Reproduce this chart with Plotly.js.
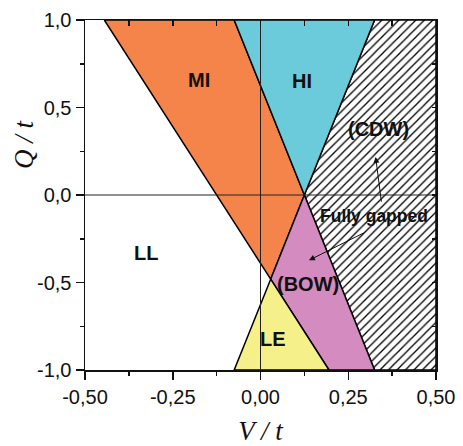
<!DOCTYPE html>
<html>
<head>
<meta charset="utf-8">
<script src="https://cdn.plot.ly/plotly-3.0.1.min.js"></script>
<style>html,body{margin:0;padding:0;background:#fff;}#chart{width:463px;height:446px;}</style>
</head>
<body>
<div id="chart"></div>
<script>
// Phase regions (V/t, Q/t vertices)
const miV  = [-0.445, -0.075, 0.125, 0.029, -0.445];
const miQ  = [1, 1, 0, -0.481, 1];
const hiV  = [-0.075, 0.325, 0.125, -0.075];
const hiQ  = [1, 1, 0, 1];
const cdwV = [0.325, 0.5, 0.5, 0.325, 0.125, 0.325];
const cdwQ = [1, 1, -1, -1, 0, 1];
const bowV = [0.125, 0.325, 0.195, 0.029, 0.125];
const bowQ = [0, -1, -1, -0.481, 0];
const leV  = [0.029, 0.195, -0.075, 0.029];
const leQ  = [-0.481, -1, -1, -0.481];

// Zero reference lines
const hLineV = [-0.5, 0.5];
const hLineQ = [0, 0];
const vLineV = [0, 0];
const vLineQ = [-1, 1];

// Ticks
const xTickVals = [-0.5, -0.25, 0, 0.25, 0.5];
const xTickText = ['-0,50', '-0,25', '0,00', '0,25', '0,50'];
const xMinor = [-0.375, -0.125, 0.125, 0.375];
const yTickVals = [-1, -0.5, 0, 0.5, 1];
const yTickText = ['-1,0', '-0,5', '0,0', '0,5', '1,0'];
const yMinor = [-0.75, -0.25, 0.25, 0.75];
const xTopTicks = [-0.5, -0.375, -0.25, -0.125, 0, 0.125, 0.25, 0.375, 0.5];
const yRightTicks = [-1, -0.75, -0.5, -0.25, 0, 0.25, 0.5, 0.75, 1];

// Region labels
const labelText = ['MI', 'HI', '(CDW)', '(BOW)', 'LE', 'LL'];
const labelV = [-0.174, 0.117, 0.336, 0.136, 0.035, -0.327];
const labelQ = [0.660, 0.650, 0.379, -0.506, -0.820, -0.331];

const noteText = 'Fully gapped';
const noteV = 0.324, noteQ = -0.122;
// arrows: head and tail
const arrowHeadV = [0.328, 0.138];
const arrowHeadQ = [0.217, -0.373];
const arrowTailV = [0.345, 0.298];
const arrowTailQ = [-0.047, -0.213];

const edge = {color: '#000', width: 1.5};
function region(x, y, color, extra) {
  return Object.assign({type: 'scatter', mode: 'lines', x: x, y: y, fill: 'toself',
    fillcolor: color, line: edge, hoverinfo: 'skip', showlegend: false}, extra || {});
}

const traces = [
  region(cdwV, cdwQ, '#ffffff', {fillpattern: {shape: '/', fgcolor: '#000', bgcolor: '#ffffff', size: 6, solidity: 0.22}}),
  region(miV, miQ, '#F5844A'),
  region(hiV, hiQ, '#6BCBDA'),
  region(bowV, bowQ, '#D38BC0'),
  region(leV, leQ, '#F6F08A'),
  {type: 'scatter', mode: 'lines', x: hLineV, y: hLineQ, line: {color: '#222', width: 1}, hoverinfo: 'skip', showlegend: false},
  {type: 'scatter', mode: 'lines', x: vLineV, y: vLineQ, line: {color: '#222', width: 1}, hoverinfo: 'skip', showlegend: false},
  {type: 'scatter', mode: 'markers', x: [0], y: [0], xaxis: 'x2', yaxis: 'y2', marker: {opacity: 0}, hoverinfo: 'skip', showlegend: false}
];

const tickFont = {family: 'Liberation Sans, Arial, sans-serif', size: 20, color: '#111'};
const annotations = [];
for (let i = 0; i < labelText.length; i++) {
  annotations.push({x: labelV[i], y: labelQ[i], xref: 'x', yref: 'y', text: '<b>' + labelText[i] + '</b>',
    showarrow: false, font: {family: 'Liberation Sans, Arial, sans-serif', size: 20, color: '#111'}});
}
annotations.push({x: noteV, y: noteQ, xref: 'x', yref: 'y', text: '<b>' + noteText + '</b>', showarrow: false,
  font: {family: 'Liberation Sans, Arial, sans-serif', size: 17.5, color: '#111'}});
for (let i = 0; i < arrowHeadV.length; i++) {
  annotations.push({x: arrowHeadV[i], y: arrowHeadQ[i], xref: 'x', yref: 'y', ax: arrowTailV[i], ay: arrowTailQ[i],
    axref: 'x', ayref: 'y', text: '', showarrow: true, arrowhead: 2, arrowsize: 1.2, arrowwidth: 1, arrowcolor: '#111'});
}
const plotW = 463 - 85 - 27, plotH = 446 - 20 - 76;
annotations.push({x: (24 - 85) / plotW, y: (370 - 144) / plotH, xref: 'paper', yref: 'paper',
  xanchor: 'center', yanchor: 'middle', text: 'Q / t', textangle: -90, showarrow: false,
  font: {family: 'Liberation Serif, Times New Roman, serif', size: 27, style: 'italic', color: '#111'}});

const layout = {
  width: 463, height: 446,
  margin: {l: 85, r: 27, t: 20, b: 76},
  paper_bgcolor: '#fff', plot_bgcolor: '#fff',
  showlegend: false,
  xaxis: {range: [-0.5, 0.5], tickmode: 'array', tickvals: xTickVals, ticktext: xTickText,
    ticks: 'outside', ticklen: 8, tickwidth: 1.5, tickcolor: '#111', tickfont: tickFont,
    minor: {tickmode: 'array', tickvals: xMinor, ticks: 'outside', ticklen: 4, tickwidth: 1.5, tickcolor: '#111', showgrid: false},
    showline: true, linecolor: '#111', linewidth: 1.5, showgrid: false, zeroline: false, fixedrange: true,
    title: {text: 'V / t', standoff: 23, font: {family: 'Liberation Serif, Times New Roman, serif', size: 27, style: 'italic', color: '#111'}}},
  yaxis: {range: [-1, 1], tickmode: 'array', tickvals: yTickVals, ticktext: yTickText,
    ticks: 'outside', ticklen: 8, tickwidth: 1.5, tickcolor: '#111', tickfont: tickFont,
    minor: {tickmode: 'array', tickvals: yMinor, ticks: 'outside', ticklen: 4, tickwidth: 1.5, tickcolor: '#111', showgrid: false},
    showline: true, linecolor: '#111', linewidth: 1.5, showgrid: false, zeroline: false, fixedrange: true},
  xaxis2: {range: [-0.5, 0.5], overlaying: 'x', side: 'top', anchor: 'y2', tickmode: 'array', tickvals: xTopTicks,
    ticks: 'inside', ticklen: 6, tickwidth: 1.5, tickcolor: '#111', showticklabels: false,
    showline: true, linecolor: '#111', linewidth: 1.5, showgrid: false, zeroline: false, fixedrange: true},
  yaxis2: {range: [-1, 1], overlaying: 'y', side: 'right', anchor: 'x2', tickmode: 'array', tickvals: yRightTicks,
    ticks: 'inside', ticklen: 4, tickwidth: 1.5, tickcolor: '#111', showticklabels: false,
    showline: true, linecolor: '#111', linewidth: 2, showgrid: false, zeroline: false, fixedrange: true},
  annotations: annotations
};

Plotly.newPlot('chart', traces, layout, {displayModeBar: false, staticPlot: true});
</script>
</body>
</html>
